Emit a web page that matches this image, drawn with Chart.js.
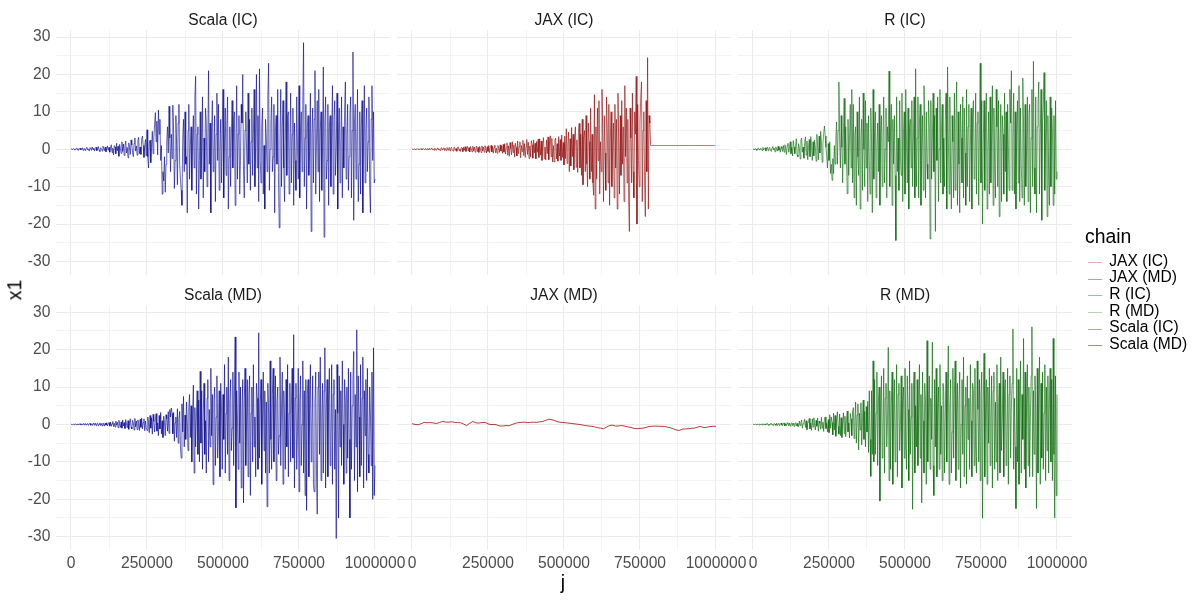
<!DOCTYPE html>
<html>
<head>
<meta charset="utf-8">
<script src="https://cdn.jsdelivr.net/npm/chart.js@4.4.1/dist/chart.umd.min.js"></script>
<style>
  html, body { margin: 0; padding: 0; background: #fff; }
  #wrap { position: relative; width: 1200px; height: 600px; overflow: hidden;
          font-family: "Liberation Sans", Arial, sans-serif; }
  #wrap canvas { position: absolute; left: 0; top: 0; }
  .lbl { position: absolute; white-space: nowrap; line-height: 1; }
  .key { position: absolute; height: 1px; width: 14px; }
</style>
</head>
<body>
<div id="wrap"></div>
<script>
// chain names (facets + legend)
const panels = ["Scala (IC)", "JAX (IC)", "R (IC)", "Scala (MD)", "JAX (MD)", "R (MD)"];
const chains = ["JAX (IC)", "JAX (MD)", "R (IC)", "R (MD)", "Scala (IC)", "Scala (MD)"];

// axis ticks
const xTicks = [0, 250000, 500000, 750000, 1000000];
const xMinor = [125000, 375000, 625000, 875000];
const yTicks = [-30, -20, -10, 0, 10, 20, 30];
const yMinor = [-25, -15, -5, 5, 15, 25];
const J_MAX = 1000000;

// traces of x1, evenly spaced over j = 0..1000000
const scalaIC = [
  0, 0.1, -0.1, 0.2, 0, -0.2, 0.1, 0.3, -0.1, 0.2, -0.3, 0.1, 0.3, -0.2, 0, 0.4, -0.3, 0.2, 0.1, -0.4,
  0.3, 0.5, -0.2, 0.1, -0.5, 0.4, 0.2, -0.3, 0.6, -0.1, 0.3, -0.5, 0.2, 0.6, -0.4, 0.1, 0.7, -0.3, -0.6, 0.4,
  0.2, -0.5, 0.8, 0.3, -0.4, 0.6, -0.7, 0.2, 0.9, -0.3, 0.5, -0.8,
  0.4, 1.2, -0.9, 0.3, -1.5, 1.0, 0.6, -1.2, 1.6, -0.4, 0.8, -1.9, 1.3, 0.2, -1.1, 2.0, -0.6, 1.4, -1.7, 0.9,
  2.2, -1.0, 0.5, -2.3, 1.7, 0.4, -1.4, 2.5, 1.1, -0.8, -2.0, 1.5, 3.0, -0.5, 0.9, -1.6, 2.4, 3.2, -1.2, 0.6,
  -1.4, 2.8, 3.5, 1.0, -2.2, 0.8, 2.6, -1.8,
  5.2, -2.0, -5.0, 1.5, 2.4, -3.6, 0.5, 4.8, -1.2, 3.0, 6.5, 9.8, 2.0, 7.5, -1.5, 10.5, 4.0, 8.0, -3.0, 1.0,
  -12.0, -6.0, -8.5, -2.0, -11.5, -4.0, 2.0, 6.0, -1.0, 11.5, 3.0, -6.0, 4.0, -2.5, 11.8, 5.0, -10.5, -3.0, 9.0, 1.0,
  -9.5, 7.0, 12.0, -4.0, -8.0, -11.0,
  -15, 3, 8, -6, 10, -4, -2, -17, 5, 12, -8, 1, 6, -11, 2, 9, -5, 14, 19.5, -12,
  4, 6, -16, -3, 10, -8, 0, 14, -13, 3, -6, 11, 7, -10, 2, 21, -4, 7, -17, 5,
  13, -6, -1, 9, -14, 4, 15, -3, 12, -11, 0, 8, -9, 5, 16, -13, 2, 11, -7, 6,
  14, -16, -2, 6, -10, 3, 13, -5, 8, 10, -15, 1, 17, -8, 4, 9, -12, -3, 12, 7,
  20, -6, -13, 5, 10, 0, -9, 15, -4, 8, -11, 2, 11, -7, 4, 16, -10, 1, 20, -5,
  9, -14, 21.5, -3, -9, 6, 11, -12, 1, -16, 8, 3, -6, 14, 23, -11, 0, 7, 14, -6,
  -2, 12, -17, 5, 9, -4, 16, -8, -21, 3, 16, -10, 6, 13, -5, -14, 2, 18, -7, 9,
  10, -12, 0, 15, -9, 4, 11, -15, 7, -3, -11, 14, 1, -8, 17, -13, 5, 10, -6, 12,
  28.5, -10, 3, 12, -16, 6, 9, -7, 0, 15, -22, 4, 11, -9, 8, 21, -12, 2, 13, -6,
  16, -14, 5, 10, -11, 1, 22, -23.5, 7, 14, -8, -3, 12, -15, 6, 9, -10, 3, 17, -12,
  8, 13, -7, 0, 15, -16, 4, 11, -9, 2, 14, -13, 6, -5, 10, 18, -8, 3, 12, -11,
  -2, 9, 14, -13, 5, 26, -19, 7, 12, -8, 1, 16, -14, -4, 10, -12, 6, 13, -17, 3,
  17, -9, 5, 11, -6, 2, 14, -10, -17, 8, 17, -3, 10, -9, -8
];

const jaxIC = [
  0, 0.05, -0.05, 0.1, 0, -0.1, 0.05, 0.1, -0.05, 0.15, -0.1, 0.05, 0.15, -0.15, 0.1, 0.2, -0.1, 0, 0.2, -0.2,
  0.15, 0.05, -0.2, 0.25, -0.1, 0.2, 0.3, -0.15, 0.1, -0.25, 0.3, 0.05, -0.3, 0.2, 0.35, -0.2, 0.1, -0.35, 0.3, 0.4,
  -0.25, 0.15, 0.4, -0.35, 0.2, -0.4, 0.45, 0.1, -0.3, 0.5, -0.45, 0.25, 0.5, -0.2, -0.5, 0.4, 0.55, -0.35, 0.2, -0.55,
  0.5, 0.6, -0.4, 0.1, -0.6, 0.55, 0.3, -0.65, 0.6, -0.3, 0.7, -0.6, 0.2, 0.75, -0.5, 0.45, -0.75, 0.7, 0.1, -0.7,
  0.8, -0.4, 0.6, -0.8, 0.3, 0.85, -0.65, 0.5, -0.85, 0.75, 0.2, -0.9, 0.9, -0.45, 0.6, -0.8, 0.95, 0.3, -1.0, 0.7,
  -0.6, 1.0, -0.9, 0.4, 1.05, -0.75, 0.8, -1.05, 0.5, 1.1, -0.95, 0.3, -1.1, 1.0, 0.6, -0.85, 1.15, -0.5, 0.9, -1.1,
  1.3, -0.8, 1.5, -1.3, 0.4, 1.7, -1.6, 0.9, -1.9, 1.8, 0.2, -1.5, 2.0, -0.9, 1.2, -2.1, 1.6, 0.5, -1.8, 2.2,
  -1.2, 0.8, 2.0, -2.3, 1.0, -0.6, 2.4, -1.7, 1.5, -2.2, 0.7, 2.6, -1.4, 1.9, -2.5, 0.9, -2.0, 2.3, 1.2, -2.4,
  2.5, -1.0, 1.6, -2.6, 2.1, -0.8, 2.7, -2.2,
  2.8, -1.6, 2.2, -3.0, 1.4, 3.1, -2.5, 0.6, -2.9, 2.5, -1.2, 3.3, -2.8, 2.0, 3.6, -2.0, 2.9, -3.4, 1.0, -3.4,
  2.4, 3.0, -2.6, 1.5, -3.2, 3.4, -1.8, 2.6, -3.0, 3.8, -2.2, 1.8,
  -4.2, 3.5, -2.5, 5.5, -3.8, 1.5, 4.6, -6.0, 2.8, -4.5, 5.8, -2.0, 4.0, -5.5, 3.2, 6.0, -4.8, 2.5, -6.2, 4.4,
  6.9, -5.0, 4.0, -7.0,
  8, -9.5, 3, 5, -6, 9, -4, -10, 7, 2, -8, 11, -6, 4, -9, -12.3, 14.6, -16,
  6, -8, 11, -3, 13, -12, 2, -6, 16, 4, -14, 9, -1, -11, 14, 5, -9, 12, -15, 3,
  10, -10, 0, 7, -13, 12, -5, 8, -16, 15, 2, -12, 9, -7, 13, -4, 6, -14, 17, -2,
  11, -9, 8, -13, -22, 11, 3, -9, 15, -6, -13, 10, 4, 19.5, -20, 12, -3, -10, 7, 14,
  18, -14, 5, 10, -8, -18, 13, -6, 24.5, -16, 9, 7,
  1, 1, 1, 1, 1, 1, 1, 1, 1, 1, 1, 1, 1, 1, 1, 1, 1, 1, 1, 1,
  1, 1, 1, 1, 1, 1, 1, 1, 1, 1, 1, 1, 1, 1, 1, 1, 1, 1, 1, 1,
  1, 1, 1, 1, 1, 1, 1, 1, 1, 1, 1, 1, 1, 1, 1, 1, 1, 1, 1, 1,
  1, 1, 1, 1, 1, 1, 1, 1, 1, 1, 1, 1, 1, 1, 1, 1, 1, 1, 1, 1,
  1, 1, 1, 1, 1, 1, 1
];

const rIC = [
  0, 0.1, -0.2, 0.2, 0.05, -0.3, 0.1, 0.4, -0.1, -0.2, 0.3, 0.15, -0.35, 0.5, -0.2, 0.1, 0.4, -0.5, 0.25, 0.6,
  -0.4, 0.2, 0.5, -0.3, -0.6, 0.4, 0.7, -0.2, 0.3, -0.7, 0.6, 0.1, -0.5, 0.8, -0.3, 0.45, -0.8, 0.7, 0.2, -0.6,
  1.0, -0.8, 1.2, 0.3, -1.4, 0.9, 1.6, -0.8, 0.4, 2.0, -1.2, 0.5, -1.8, 2.3, 0.6, -1.2, 1.0, 2.8, -1.5, -2.0,
  1.5, 0.3, -2.6, 2.4, 3.0, -0.8, 0.6, -2.4, 1.8, 3.3, -1.6, 2.2, -2.8, 0.5, 2.6, -2.0, 3.4, 1.0, -3.0, 2.0,
  -1.8, 2.4, 0.6, -3.2, 4.0, 1.2, -2.8, 3.5, -1.0, 4.8, 2.0, -3.5, 1.5, 4.2,
  6.2, 3.5, 0.5, -2.0, -5.0, 1.5, -3.0, 2.0, -6.5, -4.0, -8.3, -2.5, -6.5, 1.0, -4.0, 3.0, 7.3, -4.0, 5.0, 18.0,
  2.0, -5.0, 9.0, 0.5, -9.0, 4.0, 13.6, -4.0, 6.0, -2.0, -11.9, 8.0, -7.0, 3.0, 12.0, -5.0, 16.0, -9.0,
  12, -13, 4, 6, -15, 10, -2, -7, 14, -16, 3, 8, -11, 15, 0, -10, 13, -5, 7, -14,
  9, -3, -12, 11, 2, -17, 16, -8, 5, 10, -13, 1, 7, -6, 12, -15, 4, 9, -10, 3,
  14, -9, 0, 11, -13, 6, 2, 20.9, -10, 5, 12, -15, 8, -4, 9, -7, -24.4, 14, -6, 3,
  -11, 13, -2, -7, 15, -14, 4, 10, -12, 16, 1, -9, 11, -16, 6, 8, -5, 13, -10, 2,
  14, -13, 21.5, -10, 3, 14, -13, 7, 12, -15, -1, 9, -11, 17, 5, -13, 10, -4, -8, 13,
  6, -24, 13, -8, 2, 15, -6, 9, -22, 11, -3, 14, -14, 0, 16, -9, 5, 12, -12, 3,
  -10, 8, 15, -16, 22, 4, -12, 14, -6, -16, 9, 2, -13, 15, -11, 7, 18, -15, 10, -4,
  -17, 12, 3, -9, 14, -13, 11, -1, -15, 16, -10, 6, 12, -14, 1, 11, -16, 9, 13, -8,
  -4, 15, -12, 7, 10, -15, 5, 23, -9, 13, -20, 2, 13, -11, 8, 15, -16, 0, 10, -12,
  14, -9, 3, 17, -15, 11, -4, -13, 16, 6, -10, 13, -18, 2, 12, -14, 9, 4, -12, 15,
  -6, 10, -14, 12, 1, -11, 16, 7, 21, -11, 3, 15, -12, 10, -16, 5, 13, -9, 17, -14,
  11, -4, -13, 19, 6, -15, 12, -10, 0, 14, -14, 9, 12, -17, 3, 16, -10, 23.5, -5, -12,
  14, -17, 6, 12, 18, -12, 4, 16, -19, 7, 12, 20.5, -11, 2, 13, -18, 9, -6, -15, 14,
  -10, 11, 5, -15, 9, -12, 13, -8, -6
];

const scalaMD = [
  0, 0.05, -0.05, 0.1, -0.1, 0.05, 0.15, -0.1, 0, 0.15, -0.15, 0.1, 0.2, -0.1, 0.05, -0.2, 0.2, 0.1, -0.2, 0.25,
  -0.15, 0.05, 0.25, -0.25, 0.15, 0.3, -0.2, 0, -0.3, 0.3, 0.1, -0.25, 0.35, -0.3, 0.2, 0.35, -0.35, 0.05, 0.4, -0.3,
  0.25, -0.4, 0.4, 0.1, -0.45, 0.35, -0.2, 0.45, -0.4, 0.3, 0.5, -0.45,
  0.6, -0.5, 0.2, 0.8, -0.6, 0.3, -0.7, 0.9, -0.2, 0.6, -0.9, 1.1, 0.2, -0.8, 0.7, -1.0, 1.2, -0.4, 0.5, -1.1,
  1.3, 0.1, -0.9, 1.0, -1.3, 0.6, 1.5, -0.7, -1.2, 1.1, 0.4, -1.5, 1.6, -0.6, 0.9, -1.4, 1.2, 0.3, -1.6, 1.4,
  -0.8, 1.7, -1.2, 0.5, 1.5, -1.7, 0.9, -1.0,
  -1.6, 2.0, 0.5, -2.2, 2.4, -1.0, 1.8, -2.6, 2.7, 0.8, -2.0, 1.2, 2.9, -1.8, 0.4, -3.0, 2.4, -1.2, 3.2, -2.5,
  1.0, -3.5, 2.2, 0.6,
  -3.0, 2.6, 1.5, -1.8, 3.4, -2.4, 4.0, 2.0, 4.4, 3.0, -2.5, 3.2, -4.5, 0.5, 2.0, -3.5, 4.2, -5.0, 1.5, 3.5,
  -6.0, -9.0,
  5.5, -2.0, 7.5, -6.0, 2.5, -4.0, 6.0, 1.0, -7.0, 4.5, 8.0, -3.5, 5.0, -10.0, 3.0, 10.5, -13.0, 4.5, -6.0, 2.0,
  9.0, -8.0, 6.5, -10.0,
  14.2, -5, 9, -12, 3, 11, -8, 1, -13, 7, 12, -10, 4, -6, 15, -3, 8, -16.1, 6, 10,
  -11, 2, 13, -9, -2, 9, -14, 11, 5, -12, 8, -4, 16, -13, 3, 10, -8, 18, -15, 6,
  12, -7, -1, 14, -11, 7, 23.4, -22.3, 9, 2, -12, 14, -5, 10, -17, 4, 12, -21, 6, 15,
  -11, 0, 12, -14, 8, 13, -19, 3, 10, -10, 16, -6, 2, -14, 11, 7, -12, 24.5, -9, 5,
  12, -16, 1, 14, -7, 9, -13, 6, -22, 11, 3, -13, 17, -4, -12, 8, 15, -10, 2, 13,
  -15, 6, 10, -8, -3, 18, -11, 4, 14, -16, 9, 1, -12, 12, -6, 16, -14, 3, 11, -10,
  5, 15, -9, 24, -17, 7, 11, -12, -2, 15, -18, 6, 13, -11, 0, 17, -13, 9, -19, 12,
  -23, 8, 12, -14, 4, 16, -10, -1, 13, -16, -18, 6, 14, -12, -24, 10, 14, -8, 18, -15,
  2, 11, -13, 9, 20.5, -17, 5, 12, -14, 7, 15, -11, -3, 16, -16, 8, 12, -12, 4, -30.5,
  16, 3, -25, 13, -6, 9, -11, 17, 0, -16, 12, 6, -13, 10, -9, 15, -4, -25, 14, -12,
  5, 12, 19.5, -15, 8, -6, 25.3, -18, 13, 2, -14, 16, -11, 7, 18, -17, 9, -3, 12, -15,
  15, -8, -13, 10, 3, -11, 14, -20, 20.5, -19, -11
];

const jaxMD = [
  0.2, 0.0, -0.1, 0.2, 0.55, 0.45, 0.5, 0.4, 0.25, 0.5,
  0.8, 0.65, 0.6, 0.7, 0.55, 0.5, 0.45, 0.1, -0.3, 0.3,
  0.8, 0.45, 0.35, 0.5, 0.55, 0.15, -0.05, 0.0, -0.15, -0.45,
  -0.4, -0.3, -0.35, 0.0, 0.3, 0.5, 0.55, 0.6, 0.5, 0.55,
  0.6, 0.55, 0.7, 0.8, 1.1, 1.4, 1.25, 1.0, 0.7, 0.55,
  0.5, 0.4, 0.3, 0.2, 0.1, 0.0, -0.15, -0.3, -0.4, -0.5,
  -0.65, -0.85, -1.0, -1.15, -0.7, -0.3, -0.2, -0.45, -0.4, -0.3,
  -0.45, -0.65, -0.8, -1.05, -1.15, -1.05, -1.0, -0.8, -0.55, -0.5,
  -0.45, -0.5, -0.5, -0.55, -0.7, -0.9, -1.2, -1.5, -1.6, -1.25,
  -1.2, -1.15, -1.05, -0.95, -0.7, -0.55, -0.85, -0.75, -0.55, -0.5,
  -0.5
];

const rMD = [
  0, 0.05, -0.05, 0.1, 0, -0.1, 0.1, 0.05, -0.15, 0.15, -0.05, 0.1, -0.15, 0.2, 0.05, -0.2, 0.15, -0.1, 0.2, 0.25,
  -0.2, 0.1, -0.25, 0.2, 0.3, -0.15, 0, -0.3, 0.25, 0.1, -0.25, 0.35, -0.3, 0.15, 0.3, -0.35, 0.05, 0.4, -0.2, -0.35,
  0.3, 0.4, -0.4, 0.1, -0.3, 0.45, 0.2, -0.4, 0.35, -0.45, 0.15, 0.45, -0.3, 0.4, -0.5, 0.2, 0.5, -0.4, 0.3, -0.5,
  -0.6, 0.9, -0.3, 0.5, 1.2, -1.0, 0.2, 0.5, 1.4, -0.8, 1.0, -1.4, 0.3, 0.6, 1.6, -1.2, 0.4, -1.6, 1.5, -0.7,
  1.8, 0.2, -1.5, 1.1, -0.5, 1.7, -1.8, 0.9, 0.3, -1.3, 1.9, -1.0, 0.6, -1.9, 1.6, 2.0, -1.1, 0.4, -2.0, 1.3,
  -2.2, 2.6, -1.0, 2.0, 0.5, -2.8, 3.0, -1.5, 2.4, -3.2, 1.2, 3.4, -0.5, -2.6, 2.8, -3.0, 1.8, -3.5, 0.6, 3.1,
  -2.4, 2.2, -3.3, 1.0, 3.6, -2.0, 0.4, -3.6, 2.9, 1.5, -3.0, 3.3,
  4.5, -3.8, 1.0, 6.0, -5.0, 2.5, 5.5, -6.8, 3.0, -1.5, 5.8, -5.5, 0.5, 6.5, -4.0, 3.5, -6.0, 4.8, -2.0, 6.2,
  -7.5, 9.0, -4.0, -13.9, 9.0, -8.0, 17.0, -10.0,
  12, -8, 3, 14, -11, 6, 10, -20.5, 4, 13, -9, -2, 15, -13, 7, 11, -6, 1, 20.6, -15,
  9, -12, 5, 14, -16, 2, 12, -10, -3, 16, -14, 8, 11, -7, 0, 13, -17, 6, 10, -9,
  15, -5, -12, 13, 4, -15, 17, -8, 2, 11, -22.7, 9, 14, -13, 5, -6, 12, -11, 3, 16,
  -9, 8, -21, 14, 1, -13, 11, 6, -16, 22.4, -10, 4, 13, -12, 7, -4, 22, -11, -19, 12,
  -6, 15, -14, 3, 10, -12, 16, -8, 5, -15, 11, 9, -13, 2, 14, -10, 7, 21, -16, 4,
  12, -13, -2, 15, -9, 8, 17, -15, 3, 11, -12, 6, 14, -17, 0, 12, -8, 18, -14, 5,
  10, -16, 13, -4, 7, -12, 16, 1, -14, 11, 9, -11, 15, -6, -13, 17, 4, -10, 12, -15,
  8, 14, -25.1, 6, 19, -14, 3, 12, -16, 10, -5, 15, -11, 2, 13, -17, 9, 14, -12, 6,
  -10, 16, -15, 4, 11, -13, 18, -7, 1, 14, -14, 9, 12, -11, -4, 15, -16, 8, 13, -9,
  5, 11, 25.5, -12, 7, -6, -22.5, 15, -10, 12, -16, 3, 17, -13, 8, -4, 23, -12, 14, -17,
  6, 16, -11, 10, -14, 2, 13, 26.1, -14, 9, -8, 13, 4, -22.5, 15, -13, 7, 18, -16, 11,
  -9, 14, -12, 3, 16, -15, 10, -7, 13, -13, 6, 15, -10, 12, -15, 23, -8, -25, 13, -19,
  8
];

const series = [scalaIC, jaxIC, rIC, scalaMD, jaxMD, rMD];

// styling / layout
const lineColors = ["rgba(0,0,139,0.75)", "rgba(139,0,0,0.75)", "rgba(0,100,0,0.75)",
                    "rgba(0,0,139,0.78)", "rgba(160,10,10,0.8)", "rgba(0,100,0,0.78)"];
const keyColors = ["#E4B2B2", "#D09494", "#93C193", "#B5D4B5", "#A3A3D6", "#8F8FCD"];
const colLeft = [55.8, 396.8, 737.8];
const panelW = 334.4;
const rowTop = [30.3, 305.5];
const panelH = 244.6;
const stripBase = [25.7, 300.5];
const yAxisW = 50;
const xAxisH = 30;
const smallFont = 15.6;
const bigFont = 19.4;
const FONT = '"Liberation Sans", Arial, sans-serif';

const wrap = document.getElementById("wrap");

function addText(text, left, top, size, color, extra) {
  const d = document.createElement("div");
  d.className = "lbl";
  d.textContent = text;
  d.style.left = left + "px";
  d.style.top = top + "px";
  d.style.fontSize = size + "px";
  d.style.color = color;
  if (extra) Object.assign(d.style, extra);
  wrap.appendChild(d);
  return d;
}

const gridWidth = (minor) => (ctx) => (minor.includes(ctx.tick.value) ? 0.6 : 1.05);

panels.forEach((name, p) => {
  const col = p % 3, row = Math.floor(p / 3);
  const L = colLeft[col], T = rowTop[row];
  const vals = series[p];
  const step = J_MAX / (vals.length - 1);
  const pts = vals.map((v, i) => ({ x: i * step, y: v }));

  const canvas = document.createElement("canvas");
  canvas.width = 1200;
  canvas.height = 600;
  wrap.appendChild(canvas);

  new Chart(canvas.getContext("2d"), {
    type: "line",
    data: {
      datasets: [{
        label: name,
        data: pts,
        borderColor: lineColors[p],
        borderWidth: p === 4 ? 1 : 0.8,
        pointRadius: 0,
        tension: 0,
        fill: false,
      }],
    },
    options: {
      responsive: false,
      animation: false,
      events: [],
      parsing: false,
      layout: {
        padding: {
          left: L - yAxisW,
          right: 1200 - L - panelW,
          top: T,
          bottom: 600 - T - panelH - xAxisH,
        },
      },
      plugins: { legend: { display: false }, tooltip: { enabled: false } },
      scales: {
        x: {
          type: "linear",
          min: -50000,
          max: 1050000,
          afterBuildTicks: (s) => { s.ticks = xTicks.concat(xMinor).sort((a, b) => a - b).map((v) => ({ value: v })); },
          afterFit: (s) => { s.height = xAxisH; },
          border: { display: false },
          grid: { color: "#EBEBEB", lineWidth: gridWidth(xMinor), drawTicks: false },
          ticks: {
            display: row === 1,
            autoSkip: false,
            maxRotation: 0,
            padding: 4,
            color: "#4D4D4D",
            font: { family: FONT, size: smallFont },
            callback: (v) => (xTicks.includes(v) ? String(v) : ""),
          },
        },
        y: {
          type: "linear",
          min: -33.6,
          max: 31.8,
          afterBuildTicks: (s) => { s.ticks = yTicks.concat(yMinor).sort((a, b) => a - b).map((v) => ({ value: v })); },
          afterFit: (s) => { s.width = yAxisW; },
          border: { display: false },
          grid: { color: "#EBEBEB", lineWidth: gridWidth(yMinor), drawTicks: false },
          ticks: {
            display: col === 0,
            autoSkip: false,
            padding: 5.5,
            color: "#4D4D4D",
            font: { family: FONT, size: smallFont },
            callback: (v) => (yTicks.includes(v) ? String(v) : ""),
          },
        },
      },
    },
  });

  // facet strip label
  addText(name, L + panelW / 2, stripBase[row] - 0.8465 * smallFont, smallFont, "#1A1A1A",
          { transform: "translateX(-50%)" });
});

// axis titles
addText("x1", 14.5, 290, bigFont, "#000", { transform: "translate(-50%,-50%) rotate(-90deg)" });
addText("j", 563, 589 - 0.8465 * bigFont, bigFont, "#000", { transform: "translateX(-50%)" });

// legend
addText("chain", 1085, 243.3 - 0.8465 * bigFont, bigFont, "#000");
chains.forEach((c, k) => {
  const base = 266 + k * 16.67;
  addText(c, 1109.3, base - 0.8465 * smallFont, smallFont, "#000");
  const key = document.createElement("div");
  key.className = "key";
  key.style.left = "1088px";
  key.style.top = Math.round(base - 4) + "px";
  key.style.background = keyColors[k];
  wrap.appendChild(key);
});
</script>
</body>
</html>
